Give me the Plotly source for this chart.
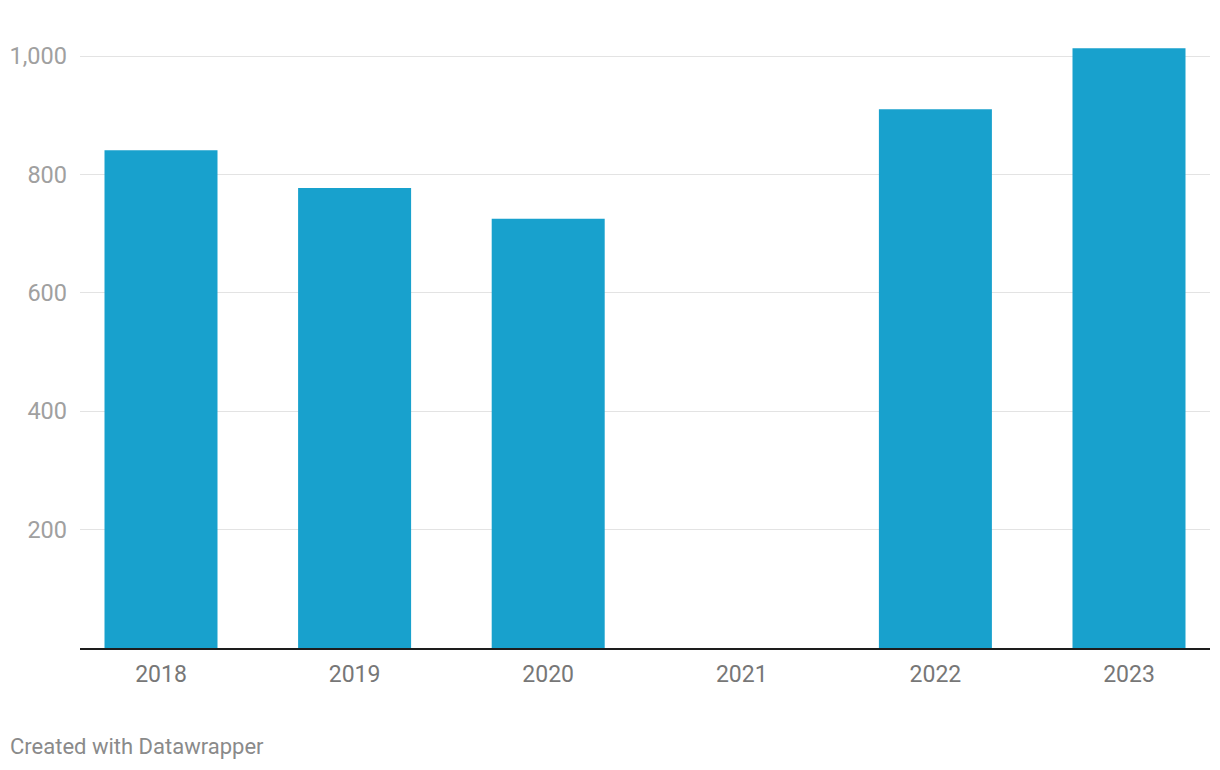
import plotly.graph_objects as go

years = ["2018", "2019", "2020", "2021", "2022", "2023"]
values = [841, 777, 725, None, 910, 1013]
y_ticks = [200, 400, 600, 800, 1000]
y_tick_labels = ["200", "400", "600", "800", "1,000"]

# page offset of 8px (body margin) compensated
OFF = 8
W, H = 1220, 770
L, T = 80 - OFF, 30 - OFF
R = W - (1210 - OFF)
B = H - (648 - OFF)
plot_w = W - L - R
plot_h = H - T - B
px_per_unit = 592 / 1000
y_max = plot_h / px_per_unit

cat_px = 193.6
x0 = -(161 - 80) / cat_px
x1 = x0 + plot_w / cat_px

xs = list(range(len(years)))

fig = go.Figure()
fig.add_trace(go.Bar(
    x=xs, y=values, width=113 / cat_px,
    marker=dict(color="#18a1cd", line=dict(width=0)),
    hoverinfo="skip",
))

fig.update_layout(
    width=W, height=H,
    margin=dict(l=L, r=R, t=T, b=B, pad=0),
    paper_bgcolor="white", plot_bgcolor="white",
    showlegend=False,
    font=dict(family="Roboto", color="#999999"),
    xaxis=dict(
        range=[x0, x1], tickmode="array", tickvals=xs, ticktext=years,
        showgrid=False, zeroline=False, automargin=False,
        showline=True, linecolor="#1d1d1d", linewidth=2,
        ticks="", tickfont=dict(size=23, color="#777777"),
        ticklabelstandoff=4,
    ),
    yaxis=dict(
        range=[0, y_max], tickmode="array", tickvals=y_ticks, ticktext=y_tick_labels,
        showgrid=True, gridcolor="#e3e3e3", gridwidth=1, automargin=False,
        zeroline=False, showline=False, ticks="",
        tickfont=dict(size=23.5, color="#a0a0a0"),
        ticklabelstandoff=12,
    ),
)

fig.add_annotation(
    text="Created with Datawrapper",
    xref="paper", yref="paper",
    x=(8 - 80) / plot_w, y=(648 - 746) / plot_h,
    xanchor="left", yanchor="middle", showarrow=False,
    font=dict(family="Roboto", size=22, color="#8a8a8a"),
)

fig.write_html("out.html")
